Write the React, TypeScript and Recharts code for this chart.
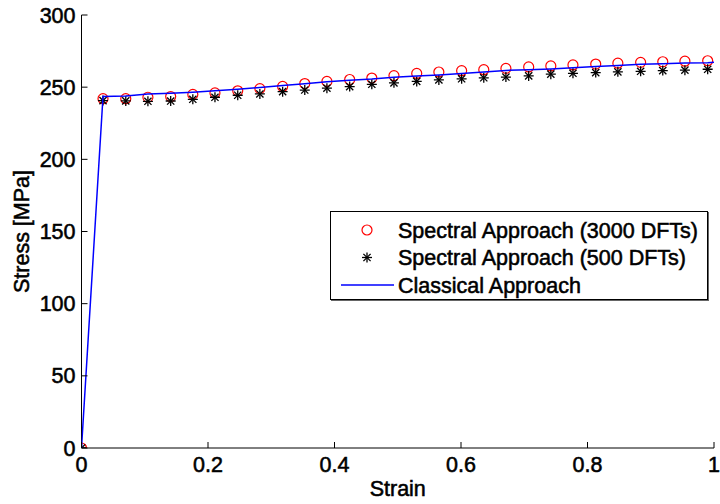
import React from 'react';
import { ScatterChart, Scatter, XAxis, YAxis, Legend } from 'recharts';

const markerStrain = [0, 0.034, 0.070, 0.105, 0.141, 0.176, 0.211, 0.247, 0.282, 0.318, 0.353, 0.388, 0.424, 0.459, 0.494, 0.530, 0.565, 0.601, 0.636, 0.671, 0.707, 0.742, 0.777, 0.813, 0.848, 0.884, 0.919, 0.954, 0.990];
const stress3000 = [0, 242, 242, 243, 243.5, 245, 246, 247.5, 249, 250.5, 252.5, 254, 255.3, 256.3, 258, 259.5, 260.5, 261.4, 262.1, 263, 264, 264.7, 265.4, 266, 266.6, 267.2, 267.6, 268, 268.3];
const stress500 = [0, 240.7, 240.5, 240.2, 240.4, 241.6, 243, 244.4, 245.3, 246.9, 248, 249.3, 250.4, 252, 253, 254, 255, 255.8, 256.5, 257, 257.8, 259, 259.6, 260.1, 260.6, 261, 261.5, 261.8, 262.4];
const classicalStrain = [0, 0.034, 0.070, 0.105, 0.141, 0.176, 0.211, 0.247, 0.282, 0.318, 0.353, 0.388, 0.424, 0.459, 0.494, 0.530, 0.565, 0.601, 0.636, 0.671, 0.707, 0.742, 0.777, 0.813, 0.848, 0.884, 0.919, 0.954, 0.990, 1.0];
const classicalStress = [0, 243.5, 243.8, 245.3, 245.8, 246.5, 247.5, 248.5, 249.8, 251.2, 252.3, 253.7, 254.8, 255.6, 256.8, 257.8, 258.5, 259.5, 260.5, 261.6, 262, 262.6, 263.5, 264.3, 265, 265.8, 266.2, 266.8, 267, 267.2];

const xTicks = [0, 0.2, 0.4, 0.6, 0.8, 1];
const xTickLabels = ['0', '0.2', '0.4', '0.6', '0.8', '1'];
const yTicks = [0, 50, 100, 150, 200, 250, 300];
const seriesNames = ['Spectral Approach (3000 DFTs)', 'Spectral Approach (500 DFTs)', 'Classical Approach'];

const data3000 = markerStrain.map((x, i) => ({ x, y: stress3000[i] }));
const data500 = markerStrain.map((x, i) => ({ x, y: stress500[i] }));
const dataClassical = classicalStrain.map((x, i) => ({ x, y: classicalStress[i] }));

const FONT = '"Liberation Sans", Arial, sans-serif';
const RED = '#ff0000';
const BLUE = '#0000ff';
const textProps = { fontFamily: FONT, fontSize: 21.5, fill: '#000', stroke: '#000', strokeWidth: 0.55 };

const Circle = (props: any) => {
  const { cx, cy } = props;
  if (cx == null || cy == null) return <g />;
  return <circle cx={cx} cy={cy} r={5} fill="none" stroke={RED} strokeWidth={1.2} />;
};

const Star = (props: any) => {
  const { cx, cy } = props;
  if (cx == null || cy == null) return <g />;
  const r = 5;
  const d = 3.6;
  return (
    <g stroke="#000" strokeWidth={1.3}>
      <line x1={cx - r} y1={cy} x2={cx + r} y2={cy} />
      <line x1={cx} y1={cy - r} x2={cx} y2={cy + r} />
      <line x1={cx - d} y1={cy - d} x2={cx + d} y2={cy + d} />
      <line x1={cx - d} y1={cy + d} x2={cx + d} y2={cy - d} />
    </g>
  );
};

const NoShape = () => <g />;

const XTick = (props: any) => {
  const { x, y, payload } = props;
  const idx = xTicks.indexOf(payload.value);
  const label = idx >= 0 ? xTickLabels[idx] : String(payload.value);
  return (
    <g>
      <line x1={x} y1={y} x2={x} y2={y - 6} stroke="#000" strokeWidth={1} />
      <text x={x} y={y + 24} textAnchor="middle" {...textProps}>{label}</text>
    </g>
  );
};

const YTick = (props: any) => {
  const { x, y, payload } = props;
  return (
    <g>
      <line x1={x} y1={y} x2={x + 6} y2={y} stroke="#000" strokeWidth={1} />
      <text x={x - 6} y={y + 7.5} textAnchor="end" {...textProps}>{payload.value}</text>
    </g>
  );
};

const XTitle = (props: any) => {
  const vb = props.viewBox || {};
  return (
    <text x={vb.x + vb.width / 2} y={vb.y + 48} textAnchor="middle" {...textProps}>Strain</text>
  );
};

const YTitle = (props: any) => {
  const vb = props.viewBox || {};
  const cx = vb.x + 29;
  const cy = vb.y + vb.height / 2;
  return (
    <text x={cx} y={cy} transform={`rotate(-90 ${cx} ${cy})`} textAnchor="middle" {...textProps}>Stress [MPa]</text>
  );
};

const LegendBox = () => {
  const rowY = [18, 45.5, 73];
  return (
    <div style={{ width: 376, height: 87, border: '1px solid #000', boxShadow: '1px 1px 0 #666', background: '#fff' }}>
      <svg width={376} height={87}>
        <Circle cx={36} cy={rowY[0]} />
        <Star cx={36} cy={rowY[1]} />
        <line x1={10} y1={rowY[2]} x2={63} y2={rowY[2]} stroke={BLUE} strokeWidth={1.5} />
        {seriesNames.map((n, i) => (
          <text key={n} x={67} y={rowY[i] + 7.5} {...textProps}>{n}</text>
        ))}
      </svg>
    </div>
  );
};

export default function App() {
  return (
    <div style={{ position: 'absolute', left: 0, top: 0, background: '#fff' }}>
      <ScatterChart width={720} height={504} margin={{ top: 15, right: 6, left: 0, bottom: 0 }}>
        <XAxis
          type="number"
          dataKey="x"
          domain={[0, 1]}
          ticks={xTicks}
          allowDataOverflow
          height={56}
          tickSize={0}
          tickMargin={0}
          axisLine={{ stroke: '#000', strokeWidth: 1 }}
          tickLine={false}
          tick={<XTick />}
          label={<XTitle />}
        />
        <YAxis
          type="number"
          dataKey="y"
          domain={[0, 300]}
          ticks={yTicks}
          allowDataOverflow
          width={81.5}
          tickSize={0}
          tickMargin={0}
          axisLine={{ stroke: '#000', strokeWidth: 1 }}
          tickLine={false}
          tick={<YTick />}
          label={<YTitle />}
        />
        <Scatter name={seriesNames[0]} data={data3000} shape={<Circle />} isAnimationActive={false} />
        <Scatter name={seriesNames[1]} data={data500} shape={<Star />} isAnimationActive={false} />
        <Scatter
          name={seriesNames[2]}
          data={dataClassical}
          shape={<NoShape />}
          line={{ stroke: BLUE, strokeWidth: 1.5 }}
          isAnimationActive={false}
        />
        <Legend
          layout="horizontal"
          verticalAlign="middle"
          align="center"
          content={<LegendBox />}
          wrapperStyle={{ position: 'absolute', left: 330, top: 211, width: 378, height: 89 }}
        />
      </ScatterChart>
    </div>
  );
}
